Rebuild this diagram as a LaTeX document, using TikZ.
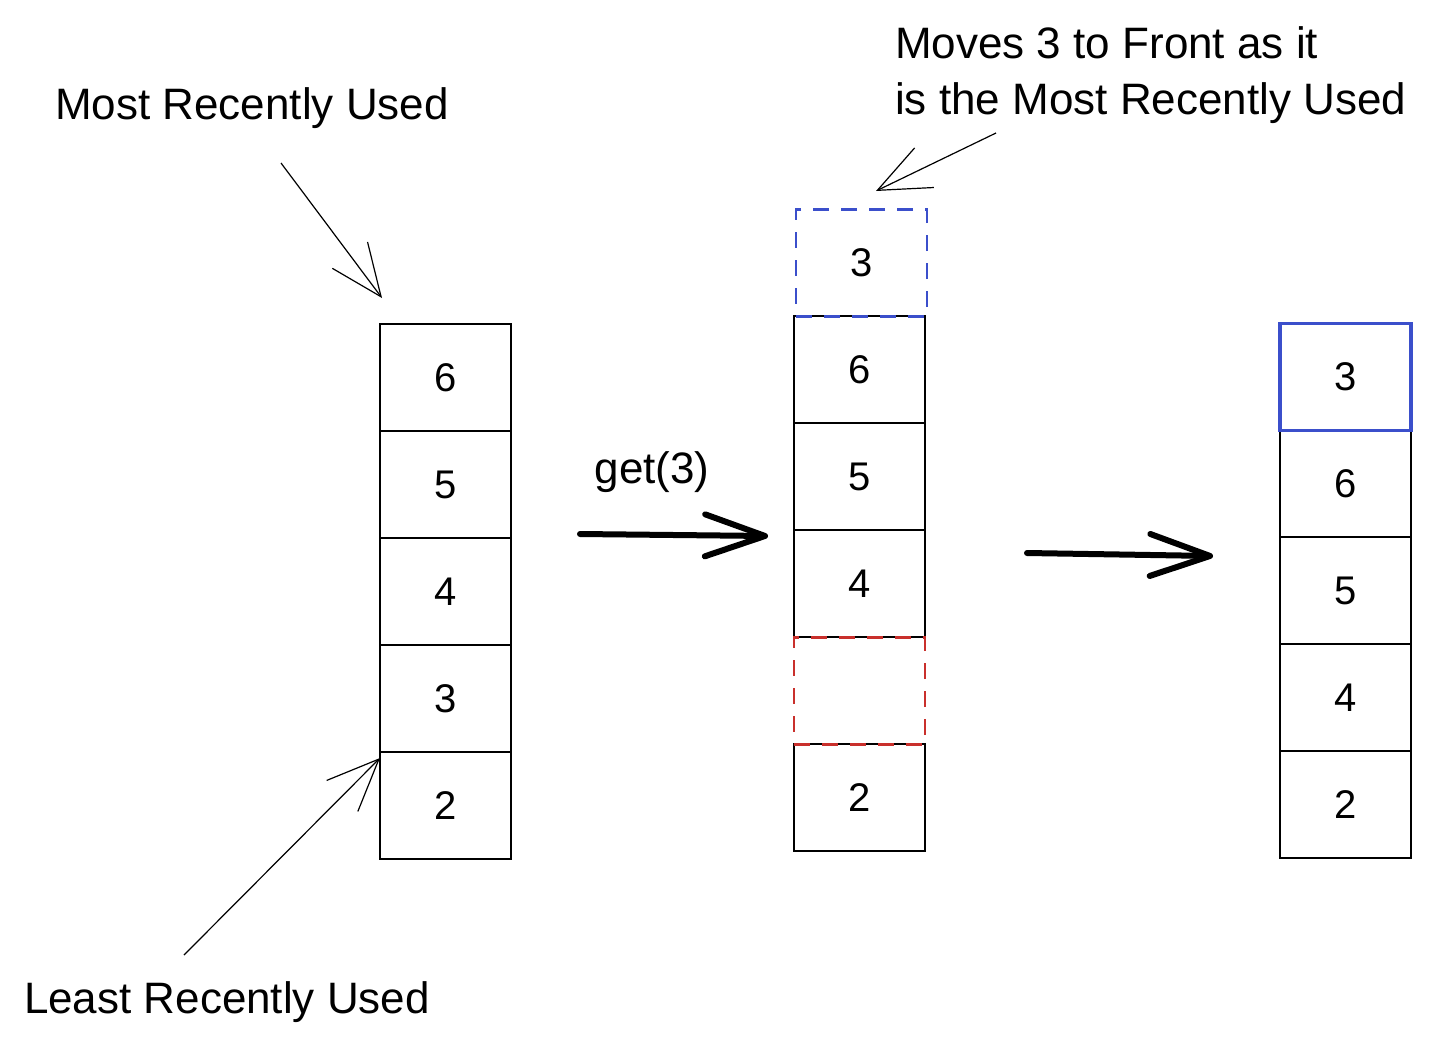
\documentclass[tikz,border=0pt]{standalone}
\usepackage{fontspec}
\setmainfont{Liberation Sans}
\usetikzlibrary{positioning,arrows.meta}
\definecolor{moveblue}{HTML}{3B4FCB}
\definecolor{gapred}{HTML}{C9302C}
\tikzset{
  cell/.style={draw,line width=0.65pt,minimum width=65.5pt,minimum height=53.5pt,
    inner sep=0pt,outer sep=0pt,font=\fontsize{20}{24}\selectfont},
  ghost/.style={cell,dashed,dash pattern=on 8pt off 6pt,line width=1.4pt},
  note/.style={font=\fontsize{22}{26}\selectfont},
  pointer/.style={line width=0.6pt,-{Straight Barb[length=26pt,width=22pt,line width=0.6pt]}},
  step arrow/.style={line width=3pt,line cap=round,
    -{Straight Barb[length=30pt,width=21pt,line width=3pt,round]}},
}
\begin{document}
\begin{tikzpicture}[x=0.5pt,y=-0.5pt]
\useasboundingbox (0,0) rectangle (1438,1049);
% before get(3)
\node[cell] (l6) at (445.5,377.6) {6};
\node[cell,below=0pt of l6] (l5) {5};
\node[cell,below=0pt of l5] (l4) {4};
\node[cell,below=0pt of l4] (l3) {3};
\node[cell,below=0pt of l3] (l2) {2};
% while moving
\node[cell] (m6) at (859.5,369.6) {6};
\node[cell,below=0pt of m6] (m5) {5};
\node[cell,below=0pt of m5] (m4) {4};
\node[cell,below=53.5pt of m4] (m2) {2};
\node[ghost,draw=gapred,below=0pt of m4] (mgap) {};
\node[ghost,draw=moveblue,above=0pt of m6,xshift=1pt] (m3) {3};
% after
\node[cell] (r6) at (1345.5,483.6) {6};
\node[cell,draw=moveblue,line width=1.6pt,above=0pt of r6] (r3) {3};
\node[cell,below=0pt of r6] (r5) {5};
\node[cell,below=0pt of r5] (r4) {4};
\node[cell,below=0pt of r4] (r2) {2};
% labels
\node[note] (mru) at (252,108) {Most Recently Used};
\node[note] (lru) at (227,1002) {Least Recently Used};
\node[note] (get) at (652,472) {get(3)};
\node[note,anchor=west,align=left] (moves) at (888,75) {Moves 3 to Front as it\\[2pt]is the Most Recently Used};
% arrows
\coordinate (mruTail) at (281,163);
\coordinate (mruTip) at (382,298);
\coordinate (lruTail) at (184,955);
\coordinate (lruTip) at (380,758);
\coordinate (movesTail) at (996,133);
\coordinate (movesTip) at (876,191);
\draw[pointer] (mruTail) -- (mruTip);
\draw[pointer] (lruTail) -- (lruTip);
\draw[pointer] (movesTail) -- (movesTip);
\coordinate (getStart) at (580,534);
\coordinate (getEnd) at (768,536);
\coordinate (nextStart) at (1027,553);
\coordinate (nextEnd) at (1213,556);
\draw[step arrow] (getStart) -- (getEnd);
\draw[step arrow] (nextStart) -- (nextEnd);
\end{tikzpicture}
\end{document}
